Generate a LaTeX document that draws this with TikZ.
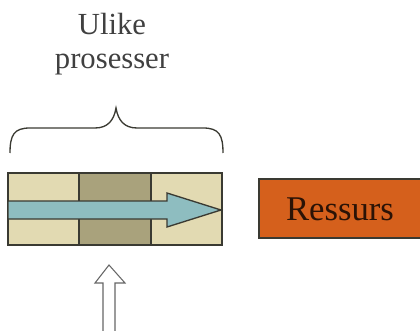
\documentclass[tikz,border=0pt]{standalone}
\usepackage{fontspec}
\setmainfont{Liberation Serif}
\definecolor{tan}{HTML}{E2DAB2}
\definecolor{darktan}{HTML}{A9A27C}
\definecolor{flow}{HTML}{8EBDC0}
\definecolor{rust}{HTML}{D5601C}
\definecolor{edge}{HTML}{3A3A32}
\tikzset{
  cell/.style={fill=#1, draw=edge, line width=1pt},
  label/.style={text=black!75, font=\fontsize{23}{26}\selectfont, align=center},
}
\begin{document}
\begin{tikzpicture}[x=0.75pt, y=-0.75pt]
\useasboundingbox (0,0) rectangle (420,331);
% title
\node[label] (title) at (112,44) {Ulike\\prosesser};
% curly brace over the pipeline
\draw[edge, line width=1pt] (10,153) .. controls (10,135) and (14,128) .. (30,128)
  -- (95,128) .. controls (108,128) and (114,120) .. (116,108)
  .. controls (118,120) and (124,128) .. (137,128)
  -- (203,128) .. controls (219,128) and (223,135) .. (223,153);
% pipeline stages
\path[cell=tan] (8,173) rectangle (79,245);
\path[cell=darktan] (79,173) rectangle (151,245);
\path[cell=tan] (151,173) rectangle (222,245);
% flow arrow through the stages
\draw[fill=flow, draw=edge, line width=1pt]
  (8,201) -- (167,201) -- (167,193) -- (221,210) -- (167,227) -- (167,219) -- (8,219) -- cycle;
% resource box
\fill[rust] (259,179) rectangle (420,238);
\draw[edge, line width=0.8pt] (420,179) -- (259,179) -- (259,238) -- (420,238);
\node[text=black!80!rust, font=\fontsize{26}{30}\selectfont] (res) at (340,209) {Ressurs};
% input arrow from below
\draw[fill=white, draw=black!60, line width=0.8pt]
  (103,331) -- (103,283) -- (95,283) -- (109,265) -- (125,283) -- (115,283) -- (115,331);
\end{tikzpicture}
\end{document}
